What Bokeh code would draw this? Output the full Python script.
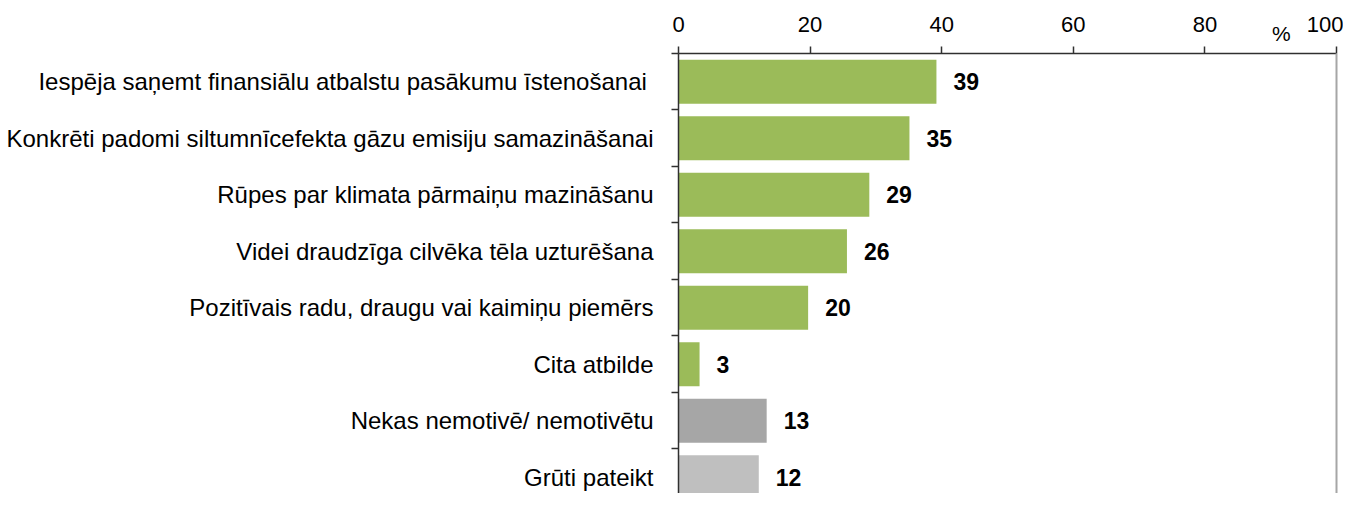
from bokeh.plotting import figure
from bokeh.models import Range1d, FixedTicker, LinearAxis, ColumnDataSource
from bokeh.core.properties import value
from bokeh.embed import file_html
from bokeh.resources import INLINE

categories = [
    "Iespēja saņemt finansiālu atbalstu pasākumu īstenošanai ",
    "Konkrēti padomi siltumnīcefekta gāzu emisiju samazināšanai",
    "Rūpes par klimata pārmaiņu mazināšanu",
    "Videi draudzīga cilvēka tēla uzturēšana",
    "Pozitīvais radu, draugu vai kaimiņu piemērs",
    "Cita atbilde",
    "Nekas nemotivē/ nemotivētu",
    "Grūti pateikt",
]
values = [39.2, 35.1, 29.0, 25.6, 19.7, 3.2, 13.4, 12.2]
labels = ["39", "35", "29", "26", "20", "3", "13", "12"]
colors = ["#9bbb59"] * 6 + ["#a6a6a6", "#bfbfbf"]
x_ticks = [0, 20, 40, 60, 80, 100]
unit_label = "%"
unit_pos = 91.6

FONT = "Liberation Sans"
AX = "#303030"

n = len(categories)
ypos = list(range(n))

src = ColumnDataSource(dict(y=ypos, v=values, lab=labels, c=colors))

p = figure(width=1343, height=493, output_backend="svg", toolbar_location=None,
           x_range=Range1d(0, 100), y_range=Range1d(7.288, -0.5),
           x_axis_location=None, min_border_left=678, min_border_top=53,
           min_border_bottom=0, min_border_right=7)
p.outline_line_color = None
p.grid.visible = False
p.background_fill_color = "white"
p.border_fill_color = "white"

p.hbar(y="y", right="v", left=0, height=0.78, color="c", source=src, line_color=None)
p.text(x="v", y="y", text="lab", source=src, x_offset=17,
       text_font=value(FONT), text_font_style="bold", text_font_size="23px",
       text_baseline="middle", text_align="left", text_color="black")

# inner top axis: line, tick marks (as minor ticks) and the "%" label
ax_in = LinearAxis(ticker=FixedTicker(ticks=[unit_pos], minor_ticks=x_ticks),
                   major_label_overrides={unit_pos: unit_label},
                   major_label_text_font=FONT, major_label_text_font_size="21px",
                   major_label_text_color="black", major_label_standoff=2,
                   major_tick_line_color=None, major_tick_out=0, major_tick_in=0,
                   minor_tick_out=7, minor_tick_in=0, minor_tick_line_color=AX,
                   minor_tick_line_width=1.5,
                   axis_line_color=AX, axis_line_width=1.5)
p.add_layout(ax_in, "above")

# outer top axis: only the numeric tick labels
ax_out = LinearAxis(ticker=FixedTicker(ticks=x_ticks),
                    major_label_text_font=FONT, major_label_text_font_size="22px",
                    major_label_text_color="black", major_label_standoff=-13,
                    major_tick_line_color=None, major_tick_out=0, major_tick_in=0,
                    minor_tick_line_color=None, axis_line_color=None)
p.add_layout(ax_out, "above")

ya = p.yaxis[0]
ya.ticker = FixedTicker(ticks=ypos, minor_ticks=[i - 0.5 for i in range(n + 1)])
ya.major_label_overrides = {i: c for i, c in enumerate(categories)}
ya.major_label_text_font = FONT
ya.major_label_text_font_size = "24px"
ya.major_label_text_color = "black"
ya.major_tick_line_color = None
ya.major_tick_out = 0
ya.major_tick_in = 0
ya.minor_tick_out = 7
ya.minor_tick_in = 0
ya.minor_tick_line_color = AX
ya.minor_tick_line_width = 1.5
ya.axis_line_color = AX
ya.axis_line_width = 1.5
ya.major_label_standoff = 18

ra = LinearAxis(ticker=FixedTicker(ticks=[]), major_label_text_font_size="0px",
                major_label_standoff=0, major_tick_out=0, major_tick_in=0,
                minor_tick_out=0, minor_tick_in=0,
                axis_line_color="#a6a6a6", axis_line_width=2,
                major_tick_line_color=None, minor_tick_line_color=None)
p.add_layout(ra, "right")

open("out.html", "w").write(file_html(p, INLINE))
